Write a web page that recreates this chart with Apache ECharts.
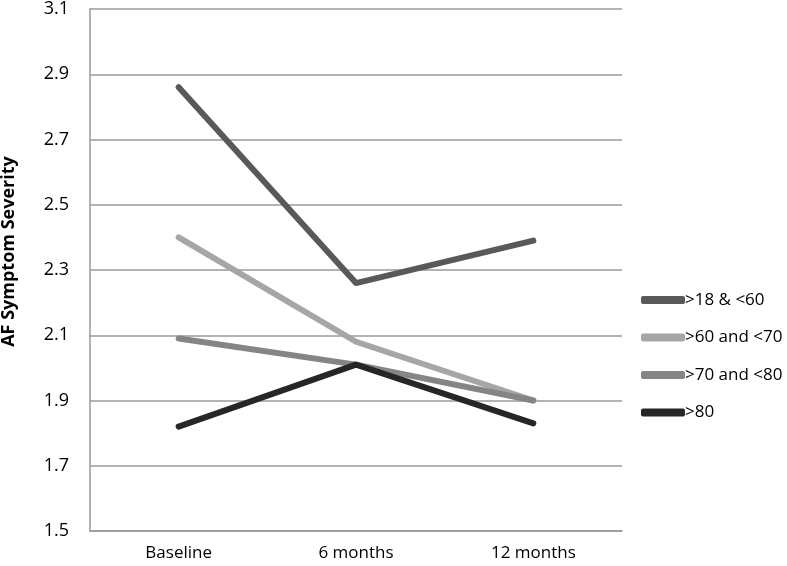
<!DOCTYPE html>
<html>
<head>
<meta charset="utf-8">
<script src="https://cdn.jsdelivr.net/npm/echarts@6/dist/echarts.min.js"></script>
<style>html,body{margin:0;padding:0;background:#fff}#c{width:787px;height:566px}</style>
</head>
<body>
<div id="c"></div>
<script>
var categories = ['Baseline', '6 months', '12 months'];
var seriesNames = ['>18 & <60', '>60 and <70', '>70 and <80', '>80'];
var s1 = [2.86, 2.26, 2.39];
var s2 = [2.40, 2.08, 1.90];
var s3 = [2.09, 2.01, 1.90];
var s4 = [1.82, 2.01, 1.83];
var colors = ['#595959', '#a6a6a6', '#858585', '#262626'];
var yTitle = 'AF Symptom Severity';

var chart = echarts.init(document.getElementById('c'), null, {renderer: 'canvas'});
var font = '"Open Sans", sans-serif';
var data = [s1, s2, s3, s4];
chart.setOption({
  animation: false,
  backgroundColor: '#fff',
  textStyle: {fontFamily: font},
  grid: {left: 90, right: 165, top: 8, bottom: 35, containLabel: false},
  legend: {
    orient: 'vertical', left: 636, top: 284, itemGap: 15.5,
    itemWidth: 44, itemHeight: 8,
    icon: 'roundRect',
    textStyle: {fontSize: 17, lineHeight: 22, color: '#000', fontFamily: font, padding: [0,0,0,-5]},
    data: seriesNames
  },
  graphic: [{
    type: 'text', x: 9, y: 251.5, rotation: Math.PI/2,
    style: {text: yTitle, font: 'bold 18px ' + font, fill: '#000', textAlign: 'center', textVerticalAlign: 'middle'}
  }],
  xAxis: {
    type: 'category', data: categories, boundaryGap: true,
    axisLine: {show: true, lineStyle: {color: '#999', width: 1.5}},
    axisTick: {show: false},
    axisLabel: {fontSize: 17, color: '#000', margin: 14, fontFamily: font}
  },
  yAxis: {
    type: 'value', min: 1.5, max: 3.1, interval: 0.2,
    axisLine: {show: true, lineStyle: {color: '#999', width: 1.5}},
    axisTick: {show: false},
    splitLine: {lineStyle: {color: '#9a9a9a', width: 1.5}},
    axisLabel: {fontSize: 18, color: '#000', margin: 21, fontFamily: font,
      formatter: function(v){ return v.toFixed(1); }}
  },
  series: seriesNames.map(function(n, i){
    return {
      name: n, type: 'line', data: data[i], symbol: 'none',
      lineStyle: {color: colors[i], width: 6, cap: 'round', join: 'round'},
      itemStyle: {color: colors[i]}
    };
  })
});
</script>
</body>
</html>
